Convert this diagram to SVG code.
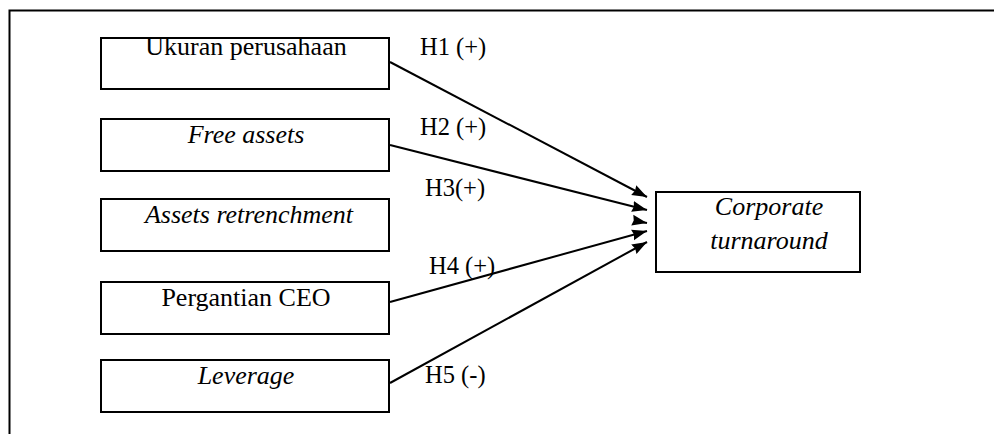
<svg xmlns="http://www.w3.org/2000/svg" width="994" height="434" viewBox="0 0 994 434">
<style>
.box{fill:#fff;stroke:#000;stroke-width:2}
.t{font-family:"Liberation Serif","Times New Roman",serif;font-size:26px;fill:#000}
.l{font-size:24.5px}
.i{font-style:italic}
.c{stroke:#000;stroke-width:2;fill:none;marker-end:url(#ah)}
</style>
<defs>
<marker id="ah" markerUnits="userSpaceOnUse" markerWidth="16" markerHeight="12" refX="15" refY="6" orient="auto">
<path d="M0,0.5 L15,6 L0,11.5 L1.5,6 z" fill="#000"/>
</marker>
</defs>
<rect width="994" height="434" fill="#fff"/>
<path d="M9.5,434 V10.5 H994" fill="none" stroke="#000" stroke-width="2"/>
<g id="n1"><rect class="box" x="101" y="38" width="288" height="51"/><text class="t" x="246" y="55" text-anchor="middle">Ukuran perusahaan</text></g>
<g id="n2"><rect class="box" x="101" y="119" width="288" height="52"/><text class="t i" x="246" y="143" text-anchor="middle">Free assets</text></g>
<g id="n3"><rect class="box" x="101" y="199" width="288" height="52"/><text class="t i" x="249" y="223" text-anchor="middle">Assets retrenchment</text></g>
<g id="n4"><rect class="box" x="101" y="282" width="288" height="52"/><text class="t" x="246" y="306" text-anchor="middle">Pergantian CEO</text></g>
<g id="n5"><rect class="box" x="101" y="360" width="288" height="52"/><text class="t i" x="246" y="384" text-anchor="middle">Leverage</text></g>
<g id="n6"><rect class="box" x="656" y="192" width="204" height="80"/><text class="t i" x="769" y="215" text-anchor="middle">Corporate</text><text class="t i" x="769" y="249" text-anchor="middle">turnaround</text></g>
<g id="connectors">
<line class="c" x1="390" y1="62" x2="647" y2="197"/>
<line class="c" x1="390" y1="145" x2="647" y2="210"/>
<line class="c" x1="634" y1="220.5" x2="647" y2="223"/>
<line class="c" x1="390" y1="302" x2="647" y2="231"/>
<line class="c" x1="390" y1="383" x2="647" y2="242"/>
</g>
<g id="labels">
<text class="t l" x="420" y="55">H1 (+)</text>
<text class="t l" x="420" y="135">H2 (+)</text>
<text class="t l" x="425" y="196">H3(+)</text>
<text class="t l" x="429" y="274">H4 (+)</text>
<text class="t l" x="425" y="383">H5 (-)</text>
</g>
</svg>
